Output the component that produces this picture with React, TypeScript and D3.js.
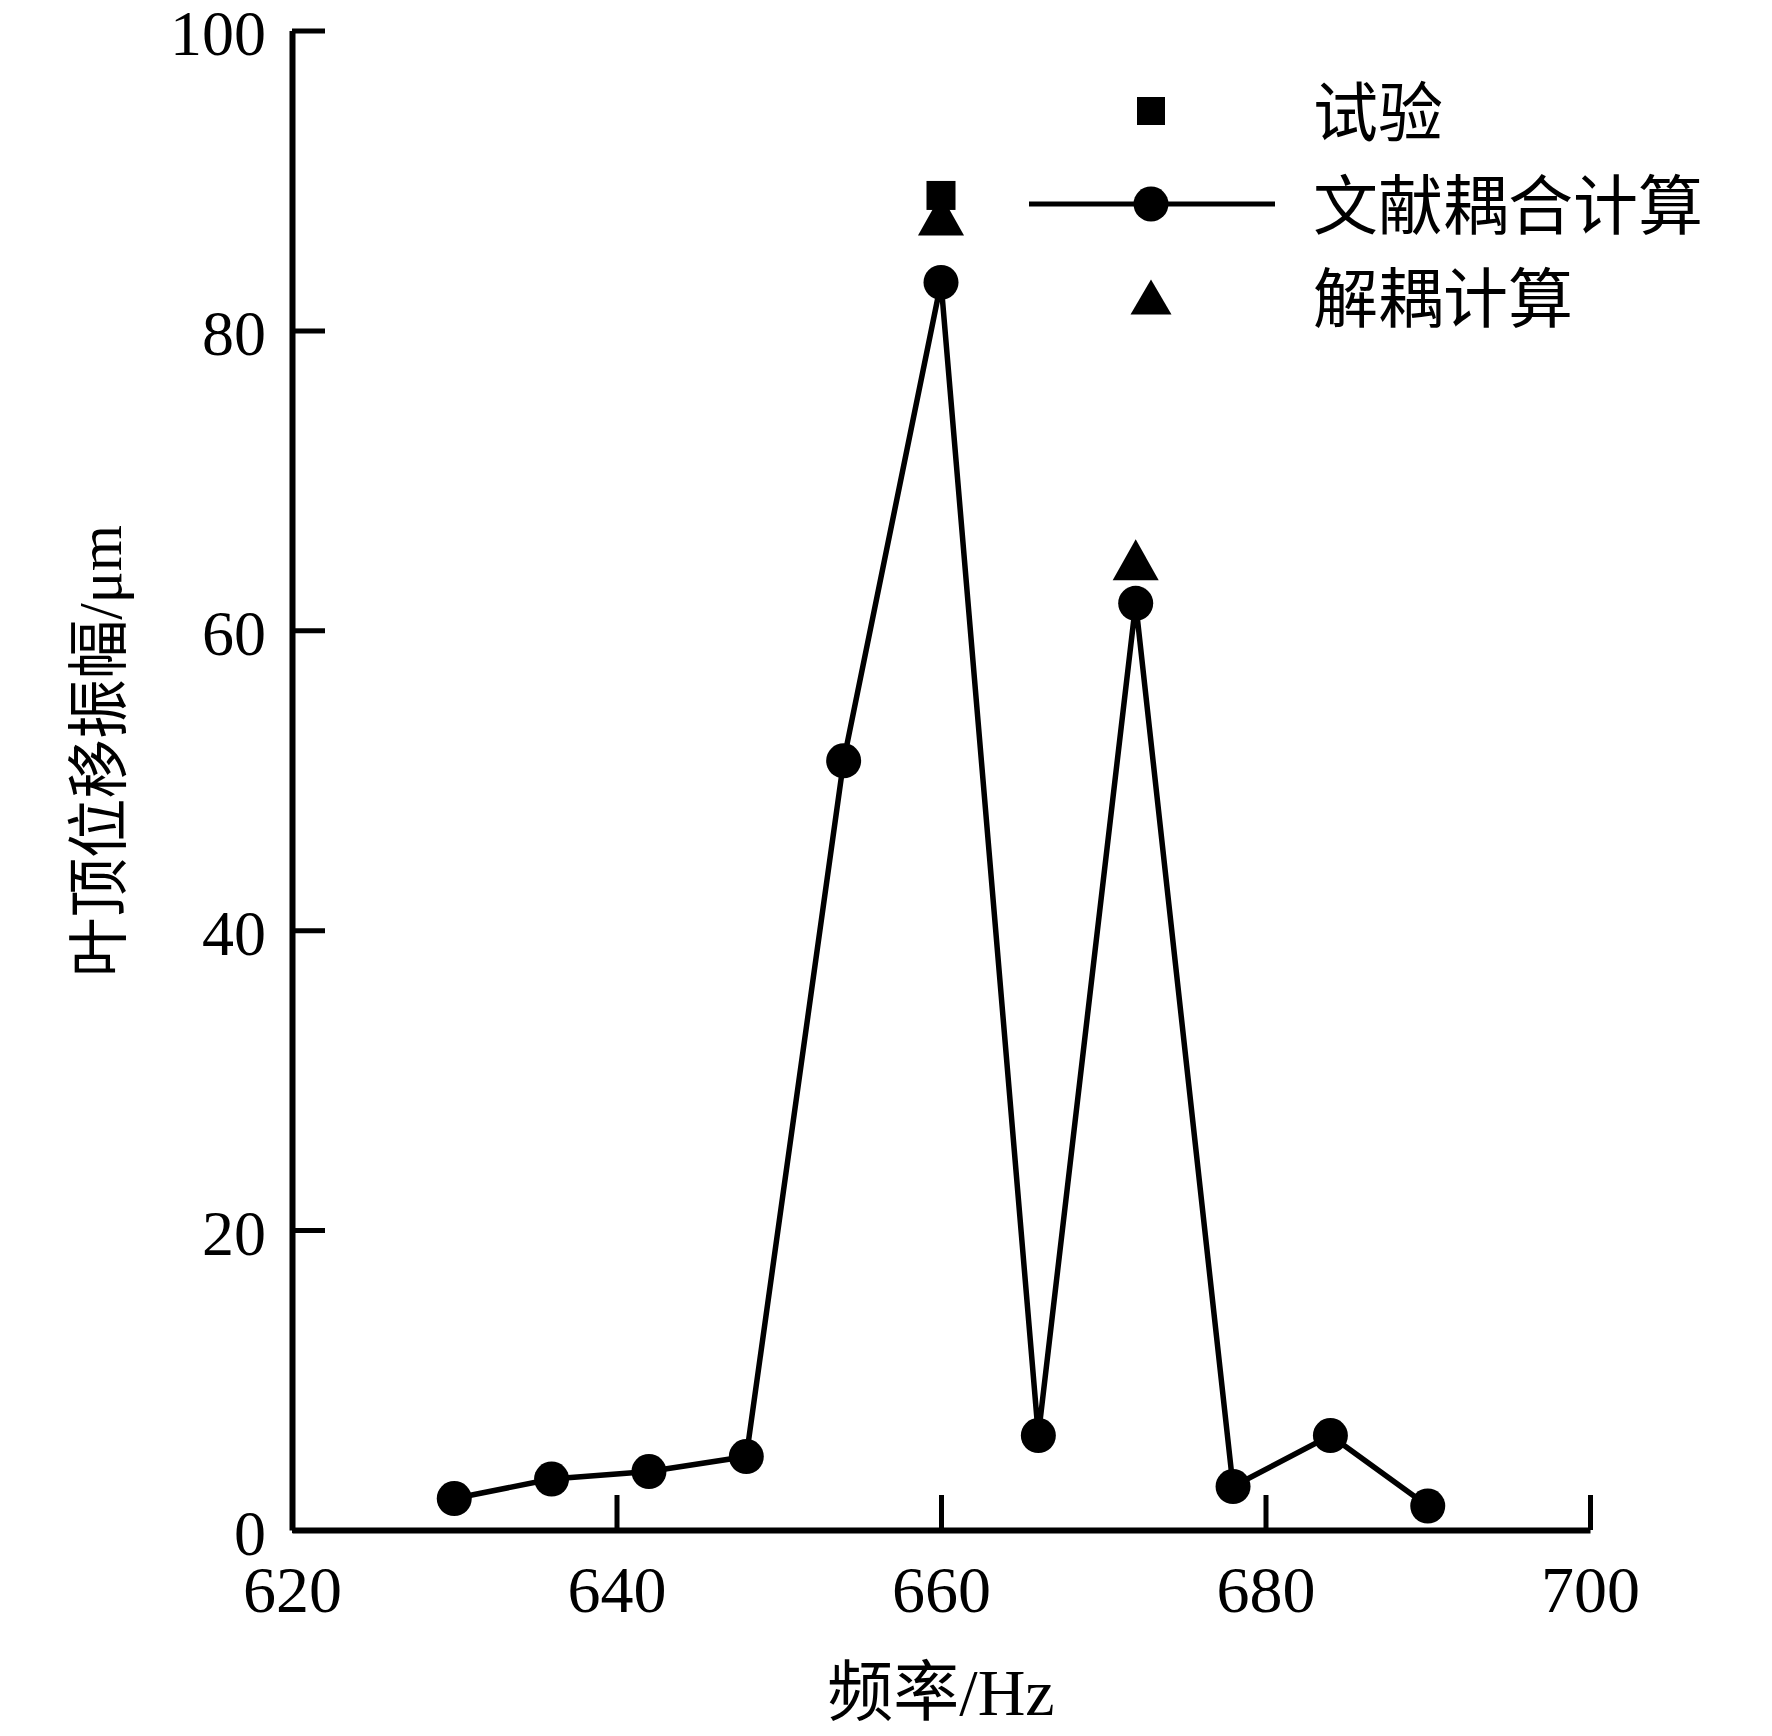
import React, { useEffect, useRef } from "react";
import * as d3 from "d3";

// values
const xTicks = [620, 640, 660, 680, 700];
const yTicks = [0, 20, 40, 60, 80, 100];
const freq = [630, 636, 642, 648, 654, 660, 666, 672, 678, 684, 690];
const coupledAmp = [2.1, 3.4, 3.9, 4.9, 51.3, 83.2, 6.3, 61.8, 2.9, 6.3, 1.6];
const testFreq = [660];
const testAmp = [89.0];
const decoupledFreq = [660, 672];
const decoupledAmp = [87.7, 64.7];
const legendLabels = ["试验", "文献耦合计算", "解耦计算"];

const FONT = "'Liberation Serif', 'Noto Sans CJK SC', serif";

const App = () => {
  const ref = useRef<SVGSVGElement>(null);

  useEffect(() => {
    const svg = d3.select(ref.current);
    svg.selectAll("*").remove();

    const x = d3.scaleLinear().domain([620, 700]).range([292, 1590]);
    const y = d3.scaleLinear().domain([0, 100]).range([1530, 30.5]);

    // axes, ticks pointing inward
    const xAxis = svg
      .append("g")
      .attr("transform", `translate(0,${y(0)})`)
      .call(d3.axisBottom(x).tickValues(xTicks).tickSizeInner(-35).tickSizeOuter(0).tickFormat(d3.format("d")));
    xAxis.select(".domain").attr("stroke-width", 6);
    xAxis.selectAll(".tick line").attr("stroke-width", 5);
    xAxis
      .selectAll(".tick text")
      .attr("y", 82)
      .attr("dy", 0)
      .attr("font-size", 66)
      .attr("font-family", FONT)
      .attr("fill", "#000");

    const yAxis = svg
      .append("g")
      .attr("transform", `translate(${x(620)},0)`)
      .call(d3.axisLeft(y).tickValues(yTicks).tickSizeInner(-33).tickSizeOuter(0).tickFormat(d3.format("d")));
    yAxis.select(".domain").attr("stroke-width", 6);
    yAxis.selectAll(".tick line").attr("stroke-width", 5);
    yAxis
      .selectAll(".tick text")
      .attr("x", -26)
      .attr("dy", "0.38em")
      .attr("font-size", 64)
      .attr("font-family", FONT)
      .attr("fill", "#000");

    // titles
    svg
      .append("text")
      .attr("x", (x(620) + x(700)) / 2)
      .attr("y", 1715)
      .attr("text-anchor", "middle")
      .attr("font-size", 66)
      .attr("font-family", FONT)
      .text("频率/Hz");

    svg
      .append("text")
      .attr("transform", "translate(121,751) rotate(-90)")
      .attr("text-anchor", "middle")
      .attr("font-size", 62)
      .attr("font-family", FONT)
      .attr("textLength", 452)
      .attr("lengthAdjust", "spacingAndGlyphs")
      .text("叶顶位移振幅/μm");

    const triangle = (cx: number, cy: number, w: number, h: number) =>
      `M${cx},${cy - h / 2}L${cx + w / 2},${cy + h / 2}L${cx - w / 2},${cy + h / 2}Z`;

    // coupled calculation line + circles
    const pts = freq.map((f, i) => [f, coupledAmp[i]] as [number, number]);
    const line = d3
      .line<[number, number]>()
      .x((d) => x(d[0]))
      .y((d) => y(d[1]));
    svg
      .append("path")
      .attr("d", line(pts))
      .attr("fill", "none")
      .attr("stroke", "#000")
      .attr("stroke-width", 5.5)
      .attr("stroke-linejoin", "miter");
    svg
      .selectAll("circle.coupled")
      .data(pts)
      .enter()
      .append("circle")
      .attr("class", "coupled")
      .attr("cx", (d) => x(d[0]))
      .attr("cy", (d) => y(d[1]))
      .attr("r", 17.5)
      .attr("fill", "#000");

    // decoupled calculation triangles
    svg
      .selectAll("path.decoupled")
      .data(decoupledFreq)
      .enter()
      .append("path")
      .attr("class", "decoupled")
      .attr("d", (d, i) => triangle(x(d), y(decoupledAmp[i]), 46, 41))
      .attr("fill", "#000");

    // test squares
    svg
      .selectAll("rect.test")
      .data(testFreq)
      .enter()
      .append("rect")
      .attr("class", "test")
      .attr("x", (d) => x(d) - 14.5)
      .attr("y", (d, i) => y(testAmp[i]) - 14.5)
      .attr("width", 29)
      .attr("height", 29)
      .attr("fill", "#000");

    // legend
    const lx = 1151;
    const rows = [111, 204, 297];
    const lg = svg.append("g");
    lg.append("rect").attr("x", lx - 14).attr("y", rows[0] - 14).attr("width", 28).attr("height", 28).attr("fill", "#000");
    lg.append("line")
      .attr("x1", 1029)
      .attr("x2", 1275)
      .attr("y1", rows[1])
      .attr("y2", rows[1])
      .attr("stroke", "#000")
      .attr("stroke-width", 5);
    lg.append("circle").attr("cx", lx).attr("cy", rows[1]).attr("r", 17.5).attr("fill", "#000");
    lg.append("path").attr("d", triangle(lx, rows[2], 41, 35)).attr("fill", "#000");
    lg.selectAll("text")
      .data(legendLabels)
      .enter()
      .append("text")
      .attr("x", 1313)
      .attr("y", (d, i) => rows[i] + 25)
      .attr("font-size", 65)
      .attr("font-family", FONT)
      .text((d) => d);
  }, []);

  return (
    <svg
      ref={ref}
      width={1772}
      height={1736}
      style={{ position: "absolute", left: 0, top: 0, background: "#fff" }}
    />
  );
};

export default App;
